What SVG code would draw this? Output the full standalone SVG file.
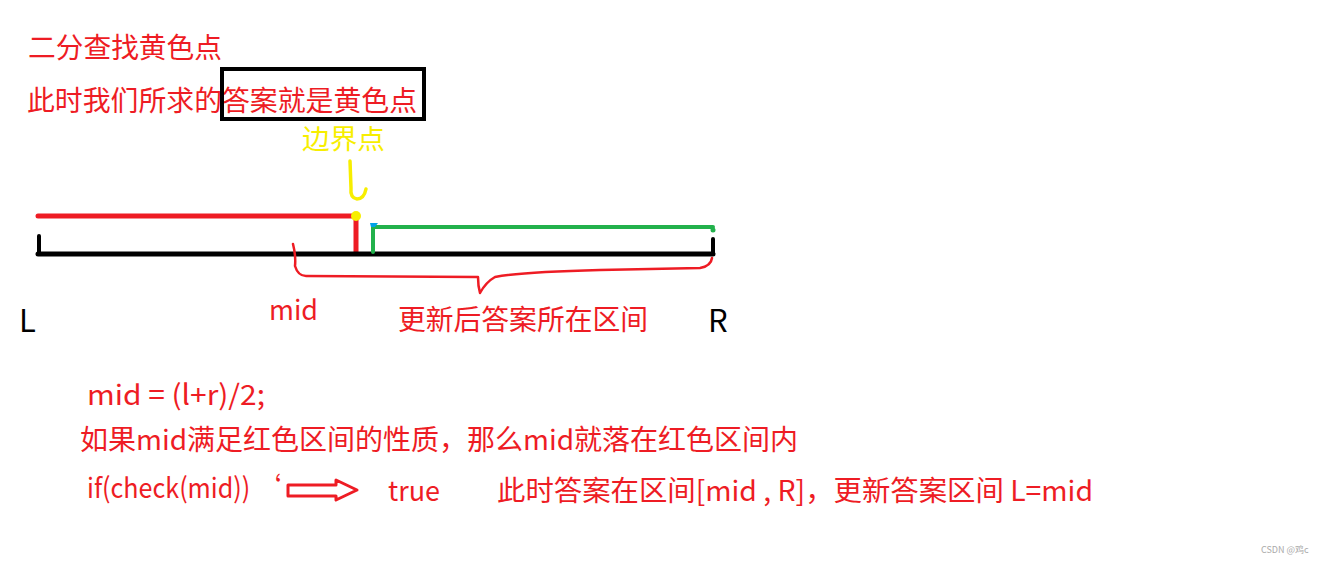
<svg xmlns="http://www.w3.org/2000/svg" width="1328" height="563" viewBox="0 0 1328 563">
<style>
text{font-family:"Noto Sans CJK SC","Liberation Sans",sans-serif;}
.r{fill:#ee1c24;font-size:28px;}
.k{fill:#000;font-size:31px;}
.y{fill:#f7ee00;font-size:27px;}
.ln{fill:none;stroke-linecap:round;stroke-linejoin:round;}
</style>
<rect width="1328" height="563" fill="#fff"/>
<g id="title"><text class="r" x="28" y="58" textLength="194" lengthAdjust="spacingAndGlyphs">二分查找黄色点</text></g>
<g id="answer">
<text class="r" x="27" y="111" textLength="390" lengthAdjust="spacingAndGlyphs">此时我们所求的答案就是黄色点</text>
<rect x="222" y="69" width="202" height="50" fill="none" stroke="#000" stroke-width="4"/>
</g>
<g id="boundary"><text class="y" x="302" y="149" textLength="83" lengthAdjust="spacingAndGlyphs">边界点</text></g>
<g id="connectors">
<path class="ln" d="M350,161 L351,188 Q350,198 357,199 Q364,199 366,189" stroke="#f7ee00" stroke-width="3.5"/>
<line class="ln" x1="38" y1="216" x2="355" y2="216" stroke="#ee1c24" stroke-width="5"/>
<line class="ln" x1="356" y1="220" x2="356" y2="253" stroke="#ee1c24" stroke-width="5"/>
<line class="ln" x1="38" y1="254" x2="713" y2="254" stroke="#000" stroke-width="5"/>
<line class="ln" x1="39" y1="236" x2="39" y2="254" stroke="#000" stroke-width="4"/>
<line class="ln" x1="713" y1="239" x2="713" y2="254" stroke="#000" stroke-width="4"/>
<path class="ln" d="M373,252 L373,227 L713,227" stroke="#22b14c" stroke-width="4"/>
<circle cx="713" cy="230" r="2.5" fill="#22b14c"/>
<path d="M370,223 L378,223 L375,227 L371,227 Z" fill="#00a2e8"/>
<circle cx="356" cy="216" r="5" fill="#f7ee00"/>
<path class="ln" d="M293,244 Q296,256 295,266 Q298,276 306,276 L478,277 Q478,286 480,293 Q486,282 495,277 Q520,272 600,270 L700,268 Q711,266 712,258" stroke="#ee1c24" stroke-width="2.5"/>
<path d="M288,485 L336,485 L336,480 L357,490 L336,500 L336,496 L288,496 Z" fill="none" stroke="#ee1c24" stroke-width="3" stroke-linejoin="round"/>
</g>
<g id="labels">
<text class="k" x="19" y="332">L</text>
<text class="k" x="708" y="332">R</text>
<text class="r" x="269" y="320" textLength="49" lengthAdjust="spacingAndGlyphs">mid</text>
<text class="r" x="398" y="330" textLength="250" lengthAdjust="spacingAndGlyphs">更新后答案所在区间</text>
</g>
<g id="code">
<text class="r" x="87" y="405" textLength="178" lengthAdjust="spacingAndGlyphs">mid  =  (l+r)/2;</text>
<text class="r" x="80" y="450" textLength="718" lengthAdjust="spacingAndGlyphs">如果mid满足红色区间的性质，那么mid就落在红色区间内</text>
<text class="r" x="87" y="498" textLength="194" lengthAdjust="spacingAndGlyphs">if(check(mid)) ‘</text>
<text class="r" x="388" y="501" textLength="52" lengthAdjust="spacingAndGlyphs">true</text>
<text class="r" x="497" y="501" textLength="596" lengthAdjust="spacingAndGlyphs">此时答案在区间[mid , R]，更新答案区间  L=mid</text>
</g>
<text x="1261" y="553" style="font-size:9px;fill:#aaa;">CSDN @鸡c</text>
</svg>
